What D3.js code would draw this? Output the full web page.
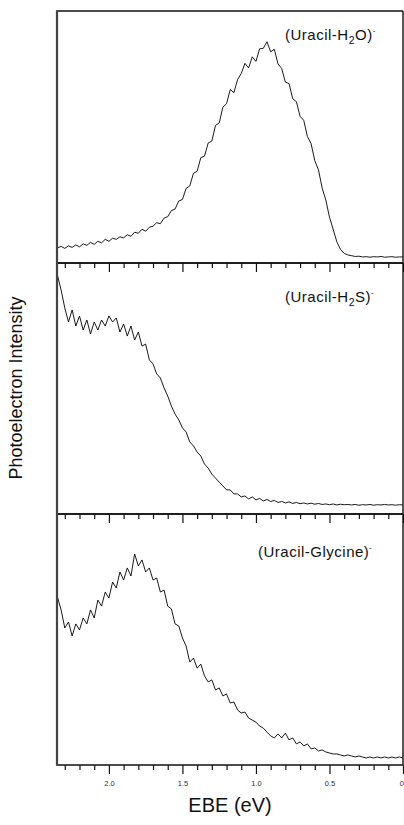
<!DOCTYPE html>
<html>
<head>
<meta charset="utf-8">
<script src="https://cdn.jsdelivr.net/npm/d3@7"></script>
<style>
  body { margin: 0; background: #fff; }
  svg { display: block; font-family: "Liberation Sans", Arial, sans-serif; }
</style>
</head>
<body>
<svg id="chart" width="404" height="825"></svg>
<script>
/* Photoelectron spectra of three uracil anion complexes, stacked
   panels sharing a reversed EBE axis. */

const ebe = [
  2.350,2.325,2.300,2.275,2.250,2.225,2.200,2.175,2.150,2.125,
  2.100,2.075,2.050,2.025,2.000,1.975,1.950,1.925,1.900,1.875,
  1.850,1.825,1.800,1.775,1.750,1.725,1.700,1.675,1.650,1.625,
  1.600,1.575,1.550,1.525,1.500,1.475,1.450,1.425,1.400,1.375,
  1.350,1.325,1.300,1.275,1.250,1.225,1.200,1.175,1.150,1.125,
  1.100,1.075,1.050,1.025,1.000,0.975,0.950,0.925,0.900,0.875,
  0.850,0.825,0.800,0.775,0.750,0.725,0.700,0.675,0.650,0.625,
  0.600,0.575,0.550,0.525,0.500,0.475,0.450,0.425,0.400,0.375,
  0.350,0.325,0.300,0.275,0.250,0.225,0.200,0.175,0.150,0.125,
  0.100,0.075,0.050,0.025,0.000
];

const uracilWater = [
  0.060,0.066,0.058,0.068,0.062,0.072,0.064,0.076,0.070,0.082,
  0.074,0.086,0.080,0.094,0.086,0.098,0.094,0.104,0.100,0.112,
  0.106,0.122,0.118,0.134,0.126,0.142,0.146,0.160,0.156,0.178,
  0.184,0.208,0.214,0.246,0.252,0.296,0.306,0.356,0.364,0.418,
  0.424,0.476,0.484,0.546,0.556,0.618,0.632,0.688,0.676,0.728,
  0.752,0.792,0.774,0.818,0.800,0.850,0.852,0.878,0.838,0.848,
  0.790,0.772,0.718,0.712,0.652,0.640,0.582,0.566,0.502,0.474,
  0.406,0.370,0.298,0.250,0.182,0.134,0.084,0.054,0.038,0.032,
  0.029,0.026,0.027,0.024,0.025,0.023,0.025,0.024,0.026,0.023,
  0.024,0.025,0.023,0.024,0.024
];

const uracilH2S = [
  0.952,0.892,0.821,0.765,0.813,0.749,0.789,0.733,0.773,0.717,
  0.765,0.733,0.773,0.749,0.789,0.765,0.781,0.725,0.757,0.709,
  0.749,0.693,0.725,0.669,0.677,0.614,0.598,0.558,0.542,0.502,
  0.470,0.430,0.398,0.375,0.343,0.327,0.287,0.271,0.247,0.231,
  0.199,0.183,0.159,0.143,0.127,0.112,0.096,0.096,0.080,0.080,
  0.068,0.072,0.060,0.068,0.056,0.062,0.052,0.058,0.050,0.054,
  0.046,0.050,0.044,0.048,0.042,0.046,0.041,0.044,0.040,0.043,
  0.039,0.042,0.038,0.040,0.037,0.040,0.036,0.039,0.037,0.038,
  0.036,0.038,0.035,0.037,0.036,0.038,0.035,0.037,0.036,0.038,
  0.036,0.037,0.035,0.037,0.036
];

const uracilGlycine = [
  0.669,0.618,0.546,0.570,0.514,0.562,0.538,0.586,0.562,0.618,
  0.586,0.657,0.633,0.689,0.665,0.729,0.705,0.769,0.737,0.785,
  0.753,0.841,0.793,0.817,0.769,0.785,0.737,0.745,0.689,0.697,
  0.633,0.622,0.562,0.554,0.506,0.474,0.410,0.426,0.386,0.402,
  0.355,0.331,0.339,0.299,0.307,0.275,0.283,0.247,0.251,0.219,
  0.207,0.211,0.187,0.179,0.171,0.155,0.147,0.131,0.116,0.108,
  0.124,0.108,0.127,0.100,0.108,0.084,0.092,0.076,0.084,0.064,
  0.068,0.056,0.060,0.052,0.048,0.044,0.044,0.040,0.036,0.040,
  0.036,0.032,0.036,0.032,0.028,0.032,0.028,0.032,0.028,0.032,
  0.028,0.032,0.028,0.032,0.028
];

// panel labels: [main text, subscript, rest]
const panelLabels = [
  ["(Uracil-H", "2", "O)"],
  ["(Uracil-H", "2", "S)"],
  ["(Uracil-Glycine)", "", ""]
];

const majorTicks = [2.0, 1.5, 1.0, 0.5, 0];
const minorTicks = [2.3,2.2,2.1,1.9,1.8,1.7,1.6,1.4,1.3,1.2,1.1,0.9,0.8,0.7,0.6,0.4,0.3,0.2,0.1];

const svg = d3.select("#chart");
const left = 57, right = 403;
const panelTops = [11, 263, 514], panelBottom = 765;

const x = d3.scaleLinear().domain([2.353, 0]).range([left, right]);

const series = [uracilWater, uracilH2S, uracilGlycine];
const labelPos = [[285, 40], [285, 302], [258, 557]];

series.forEach((vals, k) => {
  const top = panelTops[k];
  const bottom = k < 2 ? panelTops[k + 1] : panelBottom;
  const y = d3.scaleLinear().domain([0, 1]).range([bottom, top]);
  const g = svg.append("g");

  const line = d3.line().x(d => x(d[0])).y(d => y(d[1]));
  g.append("path")
    .datum(d3.zip(ebe, vals))
    .attr("d", line)
    .attr("fill", "none")
    .attr("stroke", "#000")
    .attr("stroke-width", 0.9);

  // frame
  g.append("line").attr("x1", left).attr("x2", right).attr("y1", top).attr("y2", top)
    .attr("stroke", "#111").attr("stroke-width", k === 0 ? 1.6 : 1.4);
  g.append("line").attr("x1", right).attr("x2", right).attr("y1", top).attr("y2", bottom)
    .attr("stroke", "#111").attr("stroke-width", 1.4);

  // bottom ticks
  const minorAxis = d3.axisBottom(x).tickValues(minorTicks).tickSize(5).tickFormat("");
  const majorAxis = d3.axisBottom(x).tickValues(majorTicks).tickSize(9)
    .tickPadding(7).tickFormat(d => d === 0 ? "0" : d3.format(".1f")(d));
  const ga = g.append("g").attr("transform", `translate(0,${bottom})`).call(minorAxis);
  const gb = g.append("g").attr("transform", `translate(0,${bottom})`).call(majorAxis);
  [ga, gb].forEach(a => {
    a.select(".domain").remove();
    a.selectAll("line").attr("stroke", "#111").attr("stroke-width", 1.2);
  });
  gb.selectAll("text").attr("font-size", 7.5).attr("fill", "#333")
    .attr("font-family", "Liberation Sans, Arial, sans-serif")
    .style("display", k === 2 ? null : "none")
    .filter(d => d === 0).attr("text-anchor", "end").attr("x", 0.5);

  // label
  const lp = panelLabels[k];
  const t = g.append("text").attr("x", labelPos[k][0]).attr("y", labelPos[k][1])
    .attr("font-size", 15).attr("letter-spacing", 0.5).attr("fill", "#111");
  t.append("tspan").text(lp[0]);
  if (lp[1]) t.append("tspan").attr("font-size", 10.5).attr("dy", 3.5).text(lp[1]);
  if (lp[2]) t.append("tspan").attr("dy", lp[1] ? -3.5 : 0).text(lp[2]);
  t.append("tspan").attr("font-size", 8).attr("dy", -7).text("-");
});

// bottom axis line, panel dividers and left axis
svg.append("line").attr("x1", left).attr("x2", right).attr("y1", panelBottom).attr("y2", panelBottom)
  .attr("stroke", "#111").attr("stroke-width", 1.5);
panelTops.slice(1).forEach(yy => {
  svg.append("line").attr("x1", left).attr("x2", right).attr("y1", yy).attr("y2", yy)
    .attr("stroke", "#111").attr("stroke-width", 1.4);
});
svg.append("line").attr("x1", left).attr("x2", left).attr("y1", panelTops[0] - 0.7).attr("y2", panelBottom + 0.7)
  .attr("stroke", "#444").attr("stroke-width", 2.2);

// axis titles
svg.append("text")
  .attr("x", 230).attr("y", 812)
  .attr("text-anchor", "middle")
  .attr("font-size", 20).attr("fill", "#111")
  .text("EBE (eV)");

svg.append("text")
  .attr("transform", "translate(22,388) rotate(-90)")
  .attr("text-anchor", "middle")
  .attr("font-size", 18).attr("fill", "#111")
  .text("Photoelectron Intensity");
</script>
</body>
</html>
